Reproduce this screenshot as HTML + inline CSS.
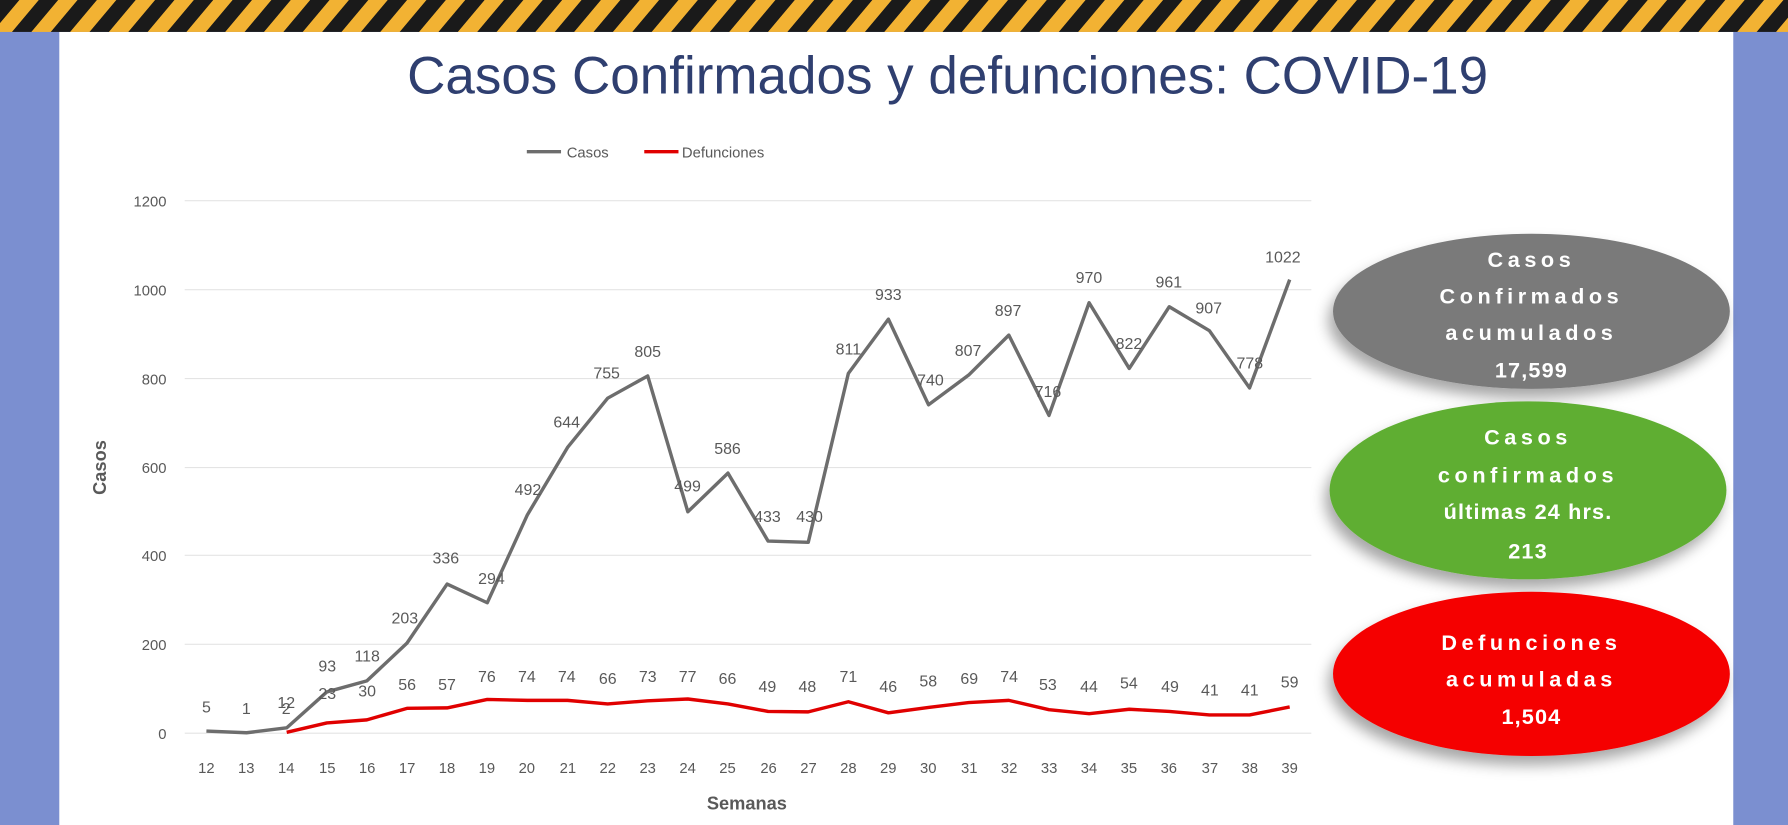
<!DOCTYPE html>
<html><head><meta charset="utf-8"><style>
html,body{margin:0;padding:0;width:1788px;height:825px;overflow:hidden;background:#fff}
svg{display:block}
text{font-family:"Liberation Sans",sans-serif}
</style></head><body>
<svg width="1788" height="825" viewBox="0 0 1568 723.5" preserveAspectRatio="none" xmlns="http://www.w3.org/2000/svg">
<defs>
<pattern id="hz" width="34" height="28" patternUnits="userSpaceOnUse" patternTransform="skewX(-40)">
<rect width="34" height="28" fill="#f2b233"/><rect width="17" height="28" fill="#1a1a1a"/>
</pattern>
<filter id="sh" x="-20%" y="-20%" width="140%" height="150%"><feDropShadow dx="-4" dy="8" stdDeviation="6" flood-color="#000" flood-opacity="0.35"/></filter>
</defs>
<rect x="0" y="0" width="1568" height="723.5" fill="#7b8fd0"/>
<rect x="52" y="28" width="1468" height="700" fill="#fff"/>
<rect x="0" y="0" width="1568" height="28" fill="url(#hz)"/>
<text x="831" y="82" text-anchor="middle" font-size="46" fill="#2f3f70" textLength="948" lengthAdjust="spacingAndGlyphs">Casos Confirmados y defunciones: COVID-19</text>
<line x1="462" y1="133" x2="492" y2="133" stroke="#6d6d6d" stroke-width="3"/>
<text x="497" y="138" font-size="13" fill="#595959">Casos</text>
<line x1="565" y1="133" x2="595" y2="133" stroke="#e00000" stroke-width="3"/>
<text x="598" y="138" font-size="13" fill="#595959">Defunciones</text>
<g stroke="#e4e4e4" stroke-width="1">
<line x1="162" y1="176" x2="1150" y2="176"/><line x1="162" y1="254" x2="1150" y2="254"/><line x1="162" y1="332" x2="1150" y2="332"/><line x1="162" y1="410" x2="1150" y2="410"/><line x1="162" y1="487" x2="1150" y2="487"/><line x1="162" y1="565" x2="1150" y2="565"/><line x1="162" y1="643" x2="1150" y2="643"/>
</g>
<g font-size="13" fill="#595959" text-anchor="end">
<text x="146" y="181">1200</text><text x="146" y="259">1000</text><text x="146" y="337">800</text><text x="146" y="415">600</text><text x="146" y="492">400</text><text x="146" y="570">200</text><text x="146" y="648">0</text>
</g>
<text transform="translate(93,410) rotate(-90)" text-anchor="middle" font-size="16" font-weight="bold" fill="#595959">Casos</text>
<text x="655" y="710" text-anchor="middle" font-size="16" font-weight="bold" fill="#595959">Semanas</text>
<g font-size="13" fill="#595959" text-anchor="middle">
<text x="181" y="678">12</text><text x="216" y="678">13</text><text x="251" y="678">14</text><text x="287" y="678">15</text><text x="322" y="678">16</text><text x="357" y="678">17</text><text x="392" y="678">18</text><text x="427" y="678">19</text><text x="462" y="678">20</text><text x="498" y="678">21</text><text x="533" y="678">22</text><text x="568" y="678">23</text><text x="603" y="678">24</text><text x="638" y="678">25</text><text x="674" y="678">26</text><text x="709" y="678">27</text><text x="744" y="678">28</text><text x="779" y="678">29</text><text x="814" y="678">30</text><text x="850" y="678">31</text><text x="885" y="678">32</text><text x="920" y="678">33</text><text x="955" y="678">34</text><text x="990" y="678">35</text><text x="1025" y="678">36</text><text x="1061" y="678">37</text><text x="1096" y="678">38</text><text x="1131" y="678">39</text>
</g>
<polyline fill="none" stroke="#6d6d6d" stroke-width="3" stroke-linejoin="round" points="181,641.1 216.2,642.6 251.4,638.3 286.6,606.8 321.7,597.1 356.9,564 392.1,512.2 427.3,528.6 462.5,451.5 497.7,392.4 532.9,349.2 568,329.7 603.2,448.8 638.4,414.9 673.6,474.5 708.8,475.6 744,327.4 779.1,279.9 814.3,355 849.5,328.9 884.7,293.9 919.9,364.3 955.1,265.5 990.3,323.1 1025.4,269 1060.6,290 1095.8,340.2 1131,245.2"/>
<polyline fill="none" stroke="#e00000" stroke-width="3" stroke-linejoin="round" points="251.4,642.2 286.6,634 321.7,631.3 356.9,621.2 392.1,620.8 427.3,613.4 462.5,614.2 497.7,614.2 532.9,617.3 568,614.6 603.2,613 638.4,617.3 673.6,623.9 708.8,624.3 744,615.4 779.1,625.1 814.3,620.4 849.5,616.1 884.7,614.2 919.9,622.4 955.1,625.9 990.3,622 1025.4,623.9 1060.6,627 1095.8,627 1131,620"/>
<g font-size="14" fill="#595959" text-anchor="middle">
<text x="181" y="625">5</text><text x="216" y="626">1</text><text x="251" y="621">12</text><text x="287" y="589">93</text><text x="322" y="580">118</text><text x="355" y="547">203</text><text x="391" y="494">336</text><text x="431" y="512">294</text><text x="463" y="434">492</text><text x="497" y="375">644</text><text x="532" y="332">755</text><text x="568" y="313">805</text><text x="603" y="431">499</text><text x="638" y="398">586</text><text x="673" y="458">433</text><text x="710" y="458">430</text><text x="744" y="311">811</text><text x="779" y="263">933</text><text x="816" y="338">740</text><text x="849" y="312">807</text><text x="884" y="277">897</text><text x="919" y="348">716</text><text x="955" y="248">970</text><text x="990" y="306">822</text><text x="1025" y="252">961</text><text x="1060" y="275">907</text><text x="1096" y="323">778</text><text x="1125" y="230">1022</text>
<text x="251" y="626">2</text><text x="287" y="613">23</text><text x="322" y="611">30</text><text x="357" y="605">56</text><text x="392" y="605">57</text><text x="427" y="598">76</text><text x="462" y="598">74</text><text x="497" y="598">74</text><text x="533" y="600">66</text><text x="568" y="598">73</text><text x="603" y="598">77</text><text x="638" y="600">66</text><text x="673" y="607">49</text><text x="708" y="607">48</text><text x="744" y="598">71</text><text x="779" y="607">46</text><text x="814" y="602">58</text><text x="850" y="600">69</text><text x="885" y="598">74</text><text x="919" y="605">53</text><text x="955" y="607">44</text><text x="990" y="604">54</text><text x="1026" y="607">49</text><text x="1061" y="610">41</text><text x="1096" y="610">41</text><text x="1131" y="603">59</text>
</g>
<ellipse cx="1343" cy="273" rx="174" ry="68" fill="#7a7a7a" filter="url(#sh)"/>
<ellipse cx="1340" cy="430" rx="174" ry="78" fill="#5fae32" filter="url(#sh)"/>
<ellipse cx="1343" cy="591" rx="174" ry="72" fill="#f50000" filter="url(#sh)"/>
<g font-size="19" font-weight="bold" fill="#fff" text-anchor="middle" letter-spacing="4">
<text x="1343" y="234">Casos</text><text x="1343" y="266">Confirmados</text><text x="1343" y="298">acumulados</text><text x="1343" y="331" letter-spacing="1">17,599</text>
<text x="1340" y="390">Casos</text><text x="1340" y="423">confirmados</text><text x="1340" y="455" letter-spacing="1">últimas 24 hrs.</text><text x="1340" y="490" letter-spacing="1">213</text>
<text x="1343" y="570">Defunciones</text><text x="1343" y="602">acumuladas</text><text x="1343" y="635" letter-spacing="1">1,504</text>
</g>
</svg>
</body></html>
